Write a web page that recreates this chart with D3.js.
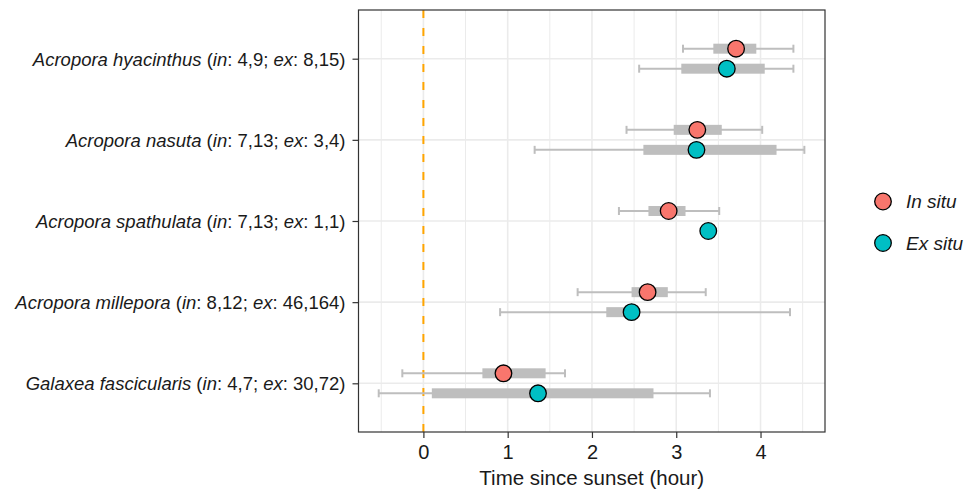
<!DOCTYPE html>
<html>
<head>
<meta charset="utf-8">
<script src="https://cdn.jsdelivr.net/npm/d3@7"></script>
<style>
  body { margin: 0; background: #fff; }
  text { font-family: "Liberation Sans", Arial, sans-serif; fill: #1a1a1a; }
</style>
</head>
<body>
<svg width="972" height="491"></svg>
<script>
// categories, top to bottom
var species   = ["Acropora hyacinthus", "Acropora nasuta", "Acropora spathulata", "Acropora millepora", "Galaxea fascicularis"];
var inCounts  = ["4,9", "7,13", "7,13", "8,12", "4,7"];
var exCounts  = ["8,15", "3,4", "1,1", "46,164", "30,72"];

// in situ: median, quartiles, whisker ends (hours since sunset)
var inMid = [3.71, 3.25, 2.91, 2.66, 0.95];
var inQ1  = [3.44, 2.97, 2.67, 2.47, 0.70];
var inQ3  = [3.95, 3.54, 3.11, 2.90, 1.45];
var inLo  = [3.08, 2.41, 2.32, 1.83, -0.25];
var inHi  = [4.39, 4.02, 3.51, 3.35, 1.68];

// ex situ
var exMid = [3.60, 3.24, 3.38, 2.47, 1.36];
var exQ1  = [3.06, 2.61, null, 2.17, 0.10];
var exQ3  = [4.05, 4.19, null, 2.52, 2.73];
var exLo  = [2.56, 1.32, null, 0.91, -0.53];
var exHi  = [4.39, 4.52, null, 4.35, 3.40];

var xTicks = [0, 1, 2, 3, 4];
var xMinor = [-0.5, 0.5, 1.5, 2.5, 3.5, 4.5];

var groups = [
  {key: "in", label: "In situ", color: "#F8766D", mid: inMid, q1: inQ1, q3: inQ3, lo: inLo, hi: inHi},
  {key: "ex", label: "Ex situ", color: "#00BFC4", mid: exMid, q1: exQ1, q3: exQ3, lo: exLo, hi: exHi}
];

var svg = d3.select("svg"),
    margin = {top: 10, right: 147, bottom: 59, left: 358.5},
    width = 972 - margin.left - margin.right,
    height = 491 - margin.top - margin.bottom,
    g = svg.append("g").attr("transform", "translate(" + margin.left + "," + margin.top + ")");

var x = d3.scaleLinear().domain([-0.77, 4.765]).range([0, width]);
var y = d3.scalePoint().domain(species).range([0, height]).padding(0.6);
var dodge = d3.scalePoint().domain(["in", "ex"]).range([-10, 10]);

// grid
g.selectAll(".minor").data(xMinor).enter().append("line")
  .attr("x1", x).attr("x2", x).attr("y1", 0).attr("y2", height)
  .attr("stroke", "#ebebeb").attr("stroke-width", 1);
g.selectAll(".major").data(xTicks).enter().append("line")
  .attr("x1", x).attr("x2", x).attr("y1", 0).attr("y2", height)
  .attr("stroke", "#ebebeb").attr("stroke-width", 1.6);
g.selectAll(".hgrid").data(species).enter().append("line")
  .attr("x1", 0).attr("x2", width).attr("y1", y).attr("y2", y)
  .attr("stroke", "#ebebeb").attr("stroke-width", 1.6);

// sunset line
g.append("line")
  .attr("x1", x(0)).attr("x2", x(0)).attr("y1", 0).attr("y2", height)
  .attr("stroke", "#FFA500").attr("stroke-width", 2)
  .attr("stroke-dasharray", "8,10");

// intervals + points
groups.forEach(function(grp){
  var rows = species.map(function(s, i){
    return {s: s, mid: grp.mid[i], q1: grp.q1[i], q3: grp.q3[i], lo: grp.lo[i], hi: grp.hi[i],
            yy: y(s) + dodge(grp.key)};
  });
  var withRange = rows.filter(function(d){ return d.lo != null; });
  var gg = g.append("g");

  gg.selectAll(".whisker").data(withRange).enter().append("line")
    .attr("x1", function(d){ return x(d.lo); }).attr("x2", function(d){ return x(d.hi); })
    .attr("y1", function(d){ return d.yy; }).attr("y2", function(d){ return d.yy; })
    .attr("stroke", "#bebebe").attr("stroke-width", 2);
  ["lo", "hi"].forEach(function(k){
    gg.selectAll(".cap-" + k).data(withRange).enter().append("line")
      .attr("x1", function(d){ return x(d[k]); }).attr("x2", function(d){ return x(d[k]); })
      .attr("y1", function(d){ return d.yy - 4; }).attr("y2", function(d){ return d.yy + 4; })
      .attr("stroke", "#bebebe").attr("stroke-width", 2);
  });
  gg.selectAll(".box").data(withRange).enter().append("rect")
    .attr("x", function(d){ return x(d.q1); })
    .attr("width", function(d){ return x(d.q3) - x(d.q1); })
    .attr("y", function(d){ return d.yy - 5; })
    .attr("height", 10)
    .attr("fill", "#bebebe");
  gg.selectAll(".pt").data(rows).enter().append("circle")
    .attr("cx", function(d){ return x(d.mid); })
    .attr("cy", function(d){ return d.yy; })
    .attr("r", 8.3)
    .attr("fill", grp.color).attr("stroke", "#000").attr("stroke-width", 1.3);
});

// panel border
g.append("rect").attr("width", width).attr("height", height)
  .attr("fill", "none").attr("stroke", "#333").attr("stroke-width", 1.2);

// x axis
var xAxis = g.append("g").attr("transform", "translate(0," + height + ")")
  .call(d3.axisBottom(x).tickValues(xTicks).tickFormat(d3.format("d")).tickSize(6).tickPadding(7));
xAxis.select(".domain").remove();
xAxis.selectAll(".tick line").attr("stroke", "#333").attr("stroke-width", 1.2);
xAxis.selectAll(".tick text").attr("font-size", 20).attr("font-family", null).style("fill", "#1a1a1a");

// y axis with mixed italic labels
var yAxis = g.append("g").call(d3.axisLeft(y).tickSize(6).tickPadding(7).tickFormat(""));
yAxis.select(".domain").remove();
yAxis.selectAll(".tick line").attr("stroke", "#333").attr("stroke-width", 1.2);
yAxis.selectAll(".tick").each(function(s, i){
  var t = d3.select(this).select("text").attr("font-size", 18.5).attr("font-family", null)
    .attr("dy", "0.35em").text(null);
  t.append("tspan").attr("font-style", "italic").text(s);
  t.append("tspan").text(" (");
  t.append("tspan").attr("font-style", "italic").text("in");
  t.append("tspan").text(": " + inCounts[i] + "; ");
  t.append("tspan").attr("font-style", "italic").text("ex");
  t.append("tspan").text(": " + exCounts[i] + ")");
});

svg.append("text")
  .attr("x", margin.left + width / 2).attr("y", 485)
  .attr("text-anchor", "middle").attr("font-size", 20.5)
  .text("Time since sunset (hour)");

// legend
var legend = svg.selectAll(".legend").data(groups).enter().append("g")
  .attr("transform", function(d, i){ return "translate(883," + (201.5 + i * 41.5) + ")"; });
legend.append("circle").attr("r", 8.3)
  .attr("fill", function(d){ return d.color; }).attr("stroke", "#000").attr("stroke-width", 1.3);
legend.append("text").attr("x", 23).attr("dy", "0.35em")
  .attr("font-size", 19).attr("font-style", "italic")
  .text(function(d){ return d.label; });
</script>
</body>
</html>
